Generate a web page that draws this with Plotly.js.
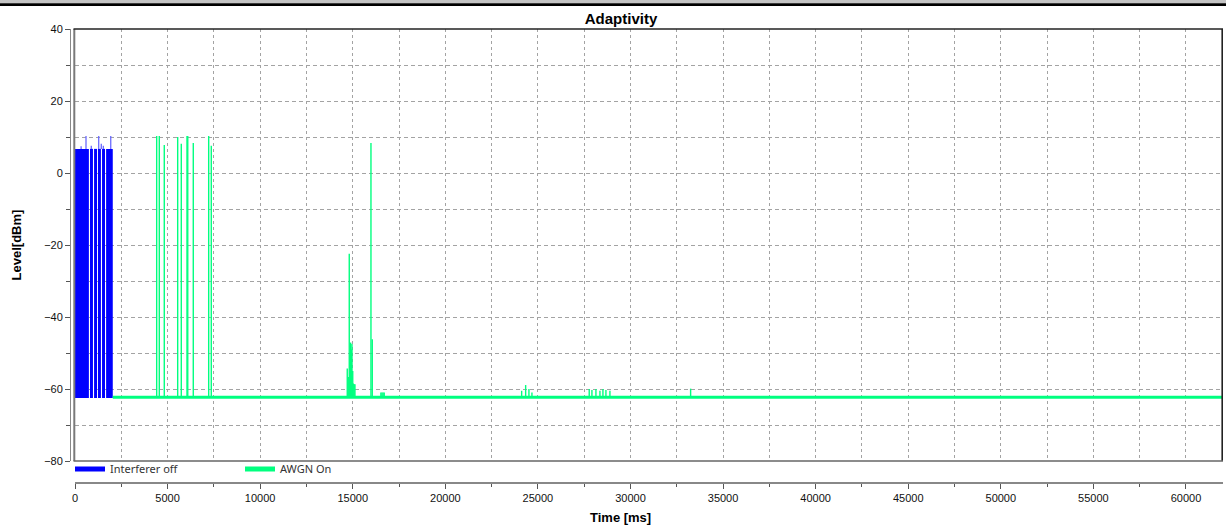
<!DOCTYPE html>
<html>
<head>
<meta charset="utf-8">
<script src="https://cdn.plot.ly/plotly-3.0.1.min.js"></script>
<style>
html,body{margin:0;padding:0;background:#fff;}
#chart{width:1226px;height:527px;}
</style>
</head>
<body>
<div id="chart"></div>
<script>
// ---- data ----
const chartTitle = 'Adaptivity';
const xTitle = 'Time [ms]';
const yTitle = 'Level[dBm]';
const seriesNames = ['Interferer off', 'AWGN On'];

// Interferer off (blue): pulses [start, end] in ms and their level in dBm
const bluePulseStart = [0, 810, 1030, 1240, 1460, 1680];
const bluePulseEnd   = [750, 970, 1190, 1400, 1620, 2040];
const bluePulseLevel = [6.7, 6.7, 6.7, 6.7, 6.7, 6.7];
const blueFloor = -62.5;
// thin peaks above the pulse tops
const blueSpikeTime  = [330, 594, 880, 1280, 1420, 1530, 1930];
const blueSpikeLevel = [7.4, 10.3, 7.6, 10.3, 8.1, 7.6, 10.3];

// AWGN On (green): noise floor and spikes
const greenStart = 2040;
const greenEnd = 62000;
const greenFloor = -62.3;
const greenSpikeTime = [
  4412, 4552, 4822, 5546, 5740, 6048, 6090, 6388, 7220, 7360,
  14704, 14758, 14812, 14860, 14888, 14930, 14958, 15000, 15028, 15080, 15120,
  15984, 16054, 16520, 16580, 16640, 16700,
  24122, 24338, 24516, 24678,
  27772, 27918, 28134, 28350, 28512, 28674, 28890,
  33248
];
const greenSpikeLevel = [
  10.3, 10.3, 7.8, 10.0, 8.1, 10.3, 10.3, 8.3, 10.3, 7.6,
  -54.3, -56.7, -22.4, -50.5, -47.1, -49.0, -47.5, -55.0, -58.5, -58.7, -58.7,
  8.3, -46.2, -61.0, -61.0, -61.0, -61.0,
  -60.5, -58.9, -60.0, -61.0,
  -60.0, -60.3, -60.0, -60.5, -60.0, -60.3, -60.5,
  -59.9
];

const xRange = [0, 62000];
const yRange = [-80, 40];

// ---- traces ----
const blueColor = '#0000FF';
const greenColor = '#00FF7F';

const blueBars = {
  type: 'bar',
  x: bluePulseStart.map((s, i) => (s + bluePulseEnd[i]) / 2),
  width: bluePulseStart.map((s, i) => bluePulseEnd[i] - s),
  base: bluePulseStart.map(() => blueFloor),
  y: bluePulseLevel.map(v => v - blueFloor),
  marker: {color: blueColor, line: {width: 0}},
  showlegend: false, hoverinfo: 'skip'
};

function spikes(times, levels, floor) {
  const xs = [], ys = [];
  times.forEach((t, i) => { xs.push(t, t, null); ys.push(floor, levels[i], null); });
  return {x: xs, y: ys};
}
const bs = spikes(blueSpikeTime, blueSpikeLevel, bluePulseLevel[0]);
const blueSpikes = {
  type: 'scatter', mode: 'lines', x: bs.x, y: bs.y,
  line: {color: '#6a6aff', width: 1.3}, showlegend: false, hoverinfo: 'skip'
};

const greenBase = {
  type: 'scatter', mode: 'lines', x: [greenStart, greenEnd], y: [greenFloor, greenFloor],
  line: {color: greenColor, width: 3}, showlegend: false, hoverinfo: 'skip'
};
const gs = spikes(greenSpikeTime, greenSpikeLevel, greenFloor);
const greenSpikes = {
  type: 'scatter', mode: 'lines', x: gs.x, y: gs.y,
  line: {color: greenColor, width: 1.4}, showlegend: false, hoverinfo: 'skip'
};

// legend entries
const legBlue = {type: 'scatter', mode: 'lines', x: [null], y: [null], name: seriesNames[0],
  line: {color: blueColor, width: 5}};
const legGreen = {type: 'scatter', mode: 'lines', x: [null], y: [null], name: seriesNames[1],
  line: {color: greenColor, width: 5}};

// ---- layout ----
const W = 1226, H = 527;
const mL = 70, mR = 3, mT = 29, mB = 44;
const pw = W - mL - mR, ph = H - mT - mB;
const xDom0 = 5 / pw;
const yDom0 = 22 / ph;
const gridCol = '#a3a3a3';
const tickFont = {family: 'Liberation Sans, Arial, sans-serif', size: 11, color: '#111'};

const layout = {
  width: W, height: H,
  margin: {l: mL, r: mR, t: mT, b: mB, pad: 0},
  paper_bgcolor: '#fff', plot_bgcolor: '#fff',
  showlegend: true,
  title: {
    text: '<b>' + chartTitle + '</b>',
    font: {family: 'Liberation Sans, Arial, sans-serif', size: 15, color: '#000'},
    xref: 'container', x: 621 / W, xanchor: 'center',
    yref: 'container', y: 1 - 19 / H, yanchor: 'middle'
  },
  xaxis: {
    range: xRange, domain: [xDom0, 1], anchor: 'free', position: 0,
    tick0: 0, dtick: 5000, tickformat: 'd',
    ticks: 'outside', ticklen: 5, tickcolor: '#555', tickwidth: 1,
    showline: true, linecolor: '#888', linewidth: 2,
    showgrid: true, gridcolor: gridCol, griddash: '3px,3px', gridwidth: 1,
    zeroline: false, tickfont: tickFont,
    minor: {dtick: 2500, ticks: 'outside', ticklen: 3, tickcolor: '#555',
            showgrid: true, gridcolor: gridCol, griddash: '3px,3px', gridwidth: 1}
  },
  yaxis: {
    range: yRange, domain: [yDom0, 1], anchor: 'free', position: 0,
    tick0: 0, dtick: 20,
    ticks: 'outside', ticklen: 5, tickcolor: '#555', tickwidth: 1,
    showline: true, linecolor: '#888', linewidth: 1,
    showgrid: true, gridcolor: gridCol, griddash: '4px,3px', gridwidth: 1,
    zeroline: false, tickfont: tickFont,
    minor: {dtick: 10, ticks: 'outside', ticklen: 4, tickcolor: '#555',
            showgrid: true, gridcolor: gridCol, griddash: '4px,3px', gridwidth: 1},
    title: {text: '<b>' + yTitle + '</b>', standoff: 18,
            font: {family: 'Liberation Sans, Arial, sans-serif', size: 13, color: '#000'}}
  },
  legend: {
    orientation: 'h', x: 0 / pw, xanchor: 'left', y: 14 / ph, yanchor: 'middle',
    bgcolor: 'rgba(0,0,0,0)', borderwidth: 0,
    font: {family: 'Noto Sans, Open Sans, sans-serif', size: 11, color: '#333'},
    entrywidth: 125, entrywidthmode: 'pixels', itemwidth: 30, tracegroupgap: 0
  },
  annotations: [{
    text: '<b>' + xTitle + '</b>', showarrow: false,
    xref: 'paper', yref: 'paper', x: (620 - mL) / pw, y: -34 / ph,
    xanchor: 'center', yanchor: 'middle',
    font: {family: 'Liberation Sans, Arial, sans-serif', size: 13, color: '#000'}
  }],
  shapes: [
    // top window band
    {type: 'rect', xref: 'paper', yref: 'paper', x0: -mL / pw, x1: (W - mL) / pw,
     y0: 1 + (mT - 3.3) / ph, y1: 1 + mT / ph, fillcolor: '#c4c4c4', line: {width: 0}},
    {type: 'rect', xref: 'paper', yref: 'paper', x0: -mL / pw, x1: (W - mL) / pw,
     y0: 1 + (mT - 6) / ph, y1: 1 + (mT - 3.3) / ph, fillcolor: '#000', line: {width: 0}},
    // plot frame
    {type: 'line', xref: 'paper', yref: 'paper', x0: 4.3 / pw, x1: 4.3 / pw, y0: yDom0, y1: 1,
     line: {color: '#7a7a7a', width: 2}},
    {type: 'line', xref: 'paper', yref: 'paper', x0: 3.5 / pw, x1: 1, y0: 1, y1: 1,
     line: {color: '#222', width: 1.5}},
    {type: 'line', xref: 'paper', yref: 'paper', x0: 1 - 0.8 / pw, x1: 1 - 0.8 / pw, y0: yDom0, y1: 1,
     line: {color: '#222', width: 1.6}},
    {type: 'line', xref: 'paper', yref: 'paper', x0: 3.5 / pw, x1: 1, y0: yDom0, y1: yDom0,
     line: {color: '#666', width: 1.5}}
  ]
};

Plotly.newPlot('chart', [blueBars, blueSpikes, greenBase, greenSpikes, legBlue, legGreen], layout,
  {staticPlot: true, displayModeBar: false});
</script>
</body>
</html>
